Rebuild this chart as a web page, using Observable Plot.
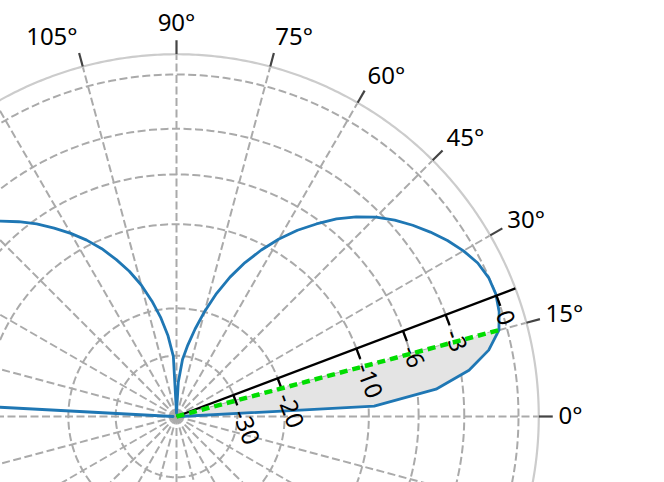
<!DOCTYPE html>
<html>
<head>
<meta charset="utf-8">
<script src="https://cdn.jsdelivr.net/npm/d3@7"></script>
<script src="https://cdn.jsdelivr.net/npm/@observablehq/plot@0.6"></script>
<style>
  html, body { margin: 0; padding: 0; background: #ffffff; }
  #chart svg { display: block; }
</style>
</head>
<body>
<div id="chart"></div>
<script>
// ---------------- data ----------------
// radiation pattern: elevation angle (deg) and normalized gain (dB)
const patternAngles = [
  0, 3, 6, 9, 12, 15, 18, 21, 24, 27, 30, 33, 36, 39, 42, 45, 48, 51, 54, 57, 60,
  63, 66, 69, 72, 75, 78, 81, 84, 87, 90,
  93, 96, 99, 102, 105, 108, 111, 114, 117, 120, 123, 126, 129, 132, 135, 138,
  141, 144, 147, 150, 153, 156, 159, 162, 165, 168, 171, 174, 177, 180
];
const patternGainDb = [
  -80, -9.5, -4.7, -2.5, -1.2, -0.42, -0.14, 0.0, -0.02, -0.2, -0.55, -0.99, -1.5, -2.05, -2.65, -3.35, -4.2, -5.15, -6.3, -7.5, -8.9,
  -10.5, -12.3, -14.4, -16.9, -19.9, -23.3, -27.0, -31.0, -40.0, -80,
  -30.2, -25.0, -21.4, -18.5, -16.0, -14.0, -12.35, -10.8, -9.5, -8.35, -7.3, -6.3, -5.4, -4.57, -3.8, -3.1,
  -2.4, -1.8, -1.3, -0.85, -0.5, -0.2, 0.0, -0.1, -0.45, -1.2, -2.45, -4.7, -9.5, -80
];
// radial (dB) grid levels and their tick labels
const radialGridDb = [-30, -20, -10, -6, -3, 0];
const radialTickLabels = ["-30", "-20", "-10", "-6", "-3", "0"];
const radialMaxDb = 1;
// angular ticks and labels
const thetaTicks = [0, 15, 30, 45, 60, 75, 90, 105, 120, 135, 150, 165, 180, 195, 210, 225, 240, 255, 270, 285, 300, 315, 330, 345];
const thetaTickLabels = ["0°", "15°", "30°", "45°", "60°", "75°", "90°", "105°", "120°", "135°", "150°", "165°", "180°", "195°", "210°", "225°", "240°", "255°", "270°", "285°", "300°", "315°", "330°", "345°"];
// annotated directions
const peakAngleDeg = 20.7;      // radial axis (black line)
const highlightEndDeg = 15;     // shaded sector 0..15°, green dotted line

// ---------------- layout ----------------
const W = 664, H = 482, CX = 176, CY = 416, PX = 342; // pixels per unit radius (0 dB)
const rho = db => Math.pow(10, db / 40);
const rad = d => d * Math.PI / 180;
const polar = (deg, r) => ({x: r * Math.cos(rad(deg)), y: r * Math.sin(rad(deg))});
const RMAX = rho(radialMaxDb);

const pattern = patternAngles.map((a, i) => ({angle: a, ...polar(a, rho(patternGainDb[i]))}));

const circles = [];
for (const lv of radialGridDb) for (let t = 0; t <= 360; t += 1) circles.push({lv, ...polar(t, rho(lv))});
const outer = [];
for (let t = 0; t <= 360; t += 0.5) outer.push(polar(t, RMAX));

const thetas = thetaTicks.map((t, i) => ({t, label: thetaTickLabels[i], c: Math.cos(rad(t)), s: Math.sin(rad(t))}));
const LR = 382 / PX, LRY = 393 / PX;

const perp = {x: Math.sin(rad(peakAngleDeg)), y: -Math.cos(rad(peakAngleDeg))};
const rTicks = radialGridDb.map((lv, i) => {
  const p = polar(peakAngleDeg, rho(lv));
  return {
    label: radialTickLabels[i],
    x1: p.x, y1: p.y,
    x2: p.x + perp.x * 11 / PX, y2: p.y + perp.y * 11 / PX,
    lx: p.x + perp.x * 17 / PX, ly: p.y + perp.y * 17 / PX
  };
});

const origin = {x: 0, y: 0};
const sector = [origin, ...pattern.filter(d => d.angle <= highlightEndDeg), origin];
const hiEnd = pattern.find(d => d.angle === highlightEndDeg);
const peakEnd = polar(peakAngleDeg, RMAX);

const gridStyle = {stroke: "#aaaaaa", strokeWidth: 2, strokeDasharray: "8,3.5", strokeLinecap: "butt"};

const chart = Plot.plot({
  width: W,
  height: H,
  margin: 0,
  x: {domain: [-CX / PX, (W - CX) / PX], axis: null},
  y: {domain: [-(H - CY) / PX, CY / PX], axis: null},
  style: {fontFamily: "'Noto Sans', 'Open Sans', sans-serif", background: "#ffffff"},
  marks: [
    // radial rays every 15°
    Plot.link(thetas, {x1: () => 0, y1: () => 0, x2: d => RMAX * d.c, y2: d => RMAX * d.s, ...gridStyle}),
    // dB circles
    Plot.line(circles, {x: "x", y: "y", z: "lv", curve: "linear", ...gridStyle, strokeLinejoin: "round"}),
    // outer boundary
    Plot.line(outer, {x: "x", y: "y", stroke: "#cccccc", strokeWidth: 2.2}),
    // theta ticks
    Plot.link(thetas, {
      x1: d => RMAX * d.c, y1: d => RMAX * d.s,
      x2: d => (RMAX + 14 / PX) * d.c, y2: d => (RMAX + 14 / PX) * d.s,
      stroke: "#444444", strokeWidth: 2.2, strokeLinecap: "butt"
    }),
    // theta labels
    Plot.text(thetas.filter(d => d.c > 0.01), {
      x: d => LR * d.c, y: d => LRY * d.s, text: "label",
      textAnchor: "start", fontSize: 24, fill: "#000000"
    }),
    Plot.text(thetas.filter(d => d.c < -0.01), {
      x: d => LR * d.c, y: d => LRY * d.s, text: "label",
      textAnchor: "end", fontSize: 24, fill: "#000000"
    }),
    Plot.text(thetas.filter(d => Math.abs(d.c) <= 0.01), {
      x: d => LR * d.c, y: d => LRY * d.s, text: "label",
      textAnchor: "middle", fontSize: 24, fill: "#000000"
    }),
    // shaded sector
    Plot.line(sector, {x: "x", y: "y", fill: "#e4e4e4", stroke: "none"}),
    // pattern
    Plot.line(pattern, {x: "x", y: "y", stroke: "#1f77b4", strokeWidth: 2.8, strokeLinejoin: "round"}),
    // radial axis line
    Plot.link([peakEnd], {x1: () => 0, y1: () => 0, x2: "x", y2: "y", stroke: "#000000", strokeWidth: 2.3}),
    Plot.link(rTicks, {x1: "x1", y1: "y1", x2: "x2", y2: "y2", stroke: "#000000", strokeWidth: 2.3, strokeLinecap: "butt"}),
    Plot.text(rTicks, {
      x: "lx", y: "ly", text: "label", rotate: 90 - peakAngleDeg,
      textAnchor: "start", fontSize: 24, fill: "#000000"
    }),
    // green dotted line
    Plot.link([hiEnd], {
      x1: () => 0, y1: () => 0, x2: "x", y2: "y",
      stroke: "#00dd00", strokeWidth: 4.5, strokeDasharray: "8,5", strokeLinecap: "butt"
    })
  ]
});
document.getElementById("chart").appendChild(chart);
</script>
</body>
</html>
